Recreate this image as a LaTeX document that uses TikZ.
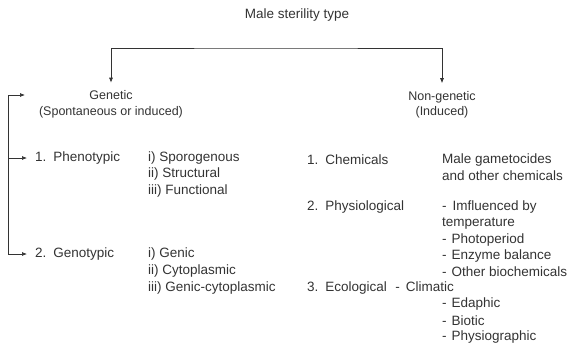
\documentclass[tikz,border=0pt]{standalone}
\usepackage{fontspec}
\setmainfont{Liberation Sans}
\usetikzlibrary{arrows.meta}

\definecolor{inkgray}{HTML}{333333}
\newcommand{\numgap}{\hspace{7pt}}

\begin{document}
\begin{tikzpicture}[x=1pt,y=-1pt]
\tikzset{
  txt/.style={inner sep=0pt,anchor=west,text=inkgray,font=\fontsize{13.5}{16}\selectfont},
  head/.style={inner sep=0pt,text=inkgray,align=center,font=\fontsize{12.5}{15.5}\selectfont},
  branch/.style={draw=inkgray,line width=0.7pt,-{Latex[length=5pt,width=4pt]}},
  both/.style={draw=inkgray,line width=0.7pt,{Latex[length=5pt,width=4pt]}-{Latex[length=5pt,width=4pt]}}
}
\useasboundingbox (0,0) rectangle (572,343);
% heads
\node[head,font=\fontsize{13.5}{16}\selectfont] (n_type) at (297.00,15.00) {Male sterility type};
\node[head] (n_gen) at (111.00,104.50) {Genetic\\(Spontaneous or induced)};
\node[head] (n_nongen) at (442.00,105.00) {Non-genetic\\(Induced)};
\coordinate (n_bar) at (275.00,48.00);
\coordinate (n_gtop) at (25.00,95.00);
\coordinate (n_brk) at (8.00,254.00);
% genetic side
\node[txt] (n_pheno) at (35.00,158.00) {1.\numgap Phenotypic};
\node[txt] (n_geno) at (35.00,254.00) {2.\numgap Genotypic};
\foreach \t [count=\i] in {i) Sporogenous,ii) Structural,iii) Functional}
  \node[txt] (n_ph\i) at (148.00,141.50+16.50*\i) {\t};
\foreach \t [count=\i] in {i) Genic,ii) Cytoplasmic,iii) Genic-cytoplasmic}
  \node[txt] (n_gt\i) at (148.00,237.00+17.00*\i) {\t};
% non-genetic side
\node[txt] (n_chem) at (307.00,160.00) {1.\numgap Chemicals};
\node[txt] (n_phys) at (307.00,207.30) {2.\numgap Physiological};
\node[txt] (n_eco) at (307.00,288.00) {3.\numgap Ecological\hspace{8.5pt}-\hspace{6pt}Climatic};
\foreach \t [count=\i] in {Male gametocides,and other chemicals}
  \node[txt] (n_ch\i) at (442.00,144.00+16.00*\i) {\t};
\foreach \t [count=\i] in {-\hspace{6pt}Imfluenced by,temperature,-\hspace{5pt}Photoperiod,-\hspace{5pt}Enzyme balance,-\hspace{5pt}Other biochemicals}
  \node[txt] (n_py\i) at (442.00,191.00+16.20*\i) {\t};
\foreach \t [count=\i] in {-\hspace{5pt}Edaphic,-\hspace{5pt}Biotic,-\hspace{5pt}Physiographic}
  \node[txt] (n_ec\i) at (442.00,288.00+16.40*\i) {\t};
% connectors
\draw[both,shorten <=8pt,shorten >=8pt] (n_gen.north) |- (n_bar) -| (n_nongen.north);
\draw[both,shorten >=8pt] (n_gtop) -| (n_brk) -- (n_geno.west);
\draw[branch,shorten >=8pt] (n_brk |- n_pheno.west) -- (n_pheno.west);
\end{tikzpicture}
\end{document}
